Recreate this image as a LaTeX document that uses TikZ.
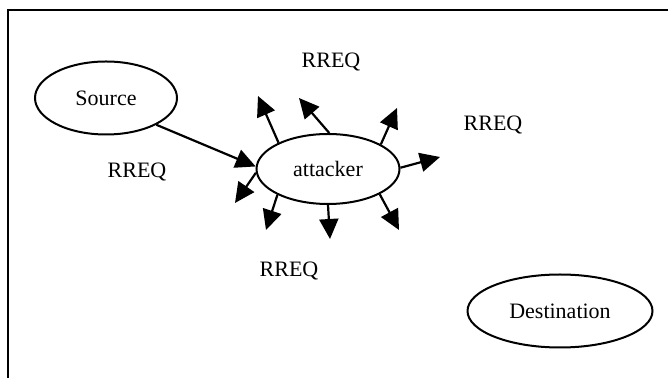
\documentclass[tikz,border=0pt]{standalone}
\usepackage{fontspec}
\setmainfont{Liberation Serif}
\usepackage{tikz}
\usetikzlibrary{shapes.geometric,arrows.meta}

\tikzset{
  station/.style={draw, ellipse, line width=1pt, inner sep=0pt, font=\fontsize{11}{13}\selectfont},
  pkt/.style={-{Triangle[length=10pt,width=9.5pt]}, line width=1.1pt},
  msg/.style={font=\fontsize{11}{13}\selectfont}
}

\begin{document}
\begin{tikzpicture}[x=0.5pt,y=-0.5pt]
			\useasboundingbox (0,0) rectangle (668,378);
			% frame
			\draw[line width=1pt] (668,10.5) -- (7.5,10.5) -- (7.5,378);
			% nodes
			\node[station, minimum width=71pt, minimum height=36.5pt] (source) at (106,98) {Source};
			\node[station, minimum width=71.5pt, minimum height=35pt] (attacker) at (328,169) {attacker};
			\node[station, minimum width=92.5pt, minimum height=36.5pt] (dest) at (560,311) {Destination};
			% labels
			\node[msg] (rreq top) at (331,62) {RREQ};
			\node[msg] (rreq right) at (493,125) {RREQ};
			\node[msg] (rreq left) at (137,172) {RREQ};
			\node[msg] (rreq bottom) at (289,271) {RREQ};
			% flooding
			\draw[pkt] (source.-28) -- (attacker.178);
			\foreach \a/\x/\y [count=\i] in {152/258/96, 88/299/98, 25/397/108, 1/440/157, 183/235/203, 207/266/230, 270/330/239, 334/399/230}
			{
			\coordinate (t\i) at (\x,\y);
			\draw[pkt] (attacker.\a) -- (t\i);
			}
		\end{tikzpicture}
\end{document}
